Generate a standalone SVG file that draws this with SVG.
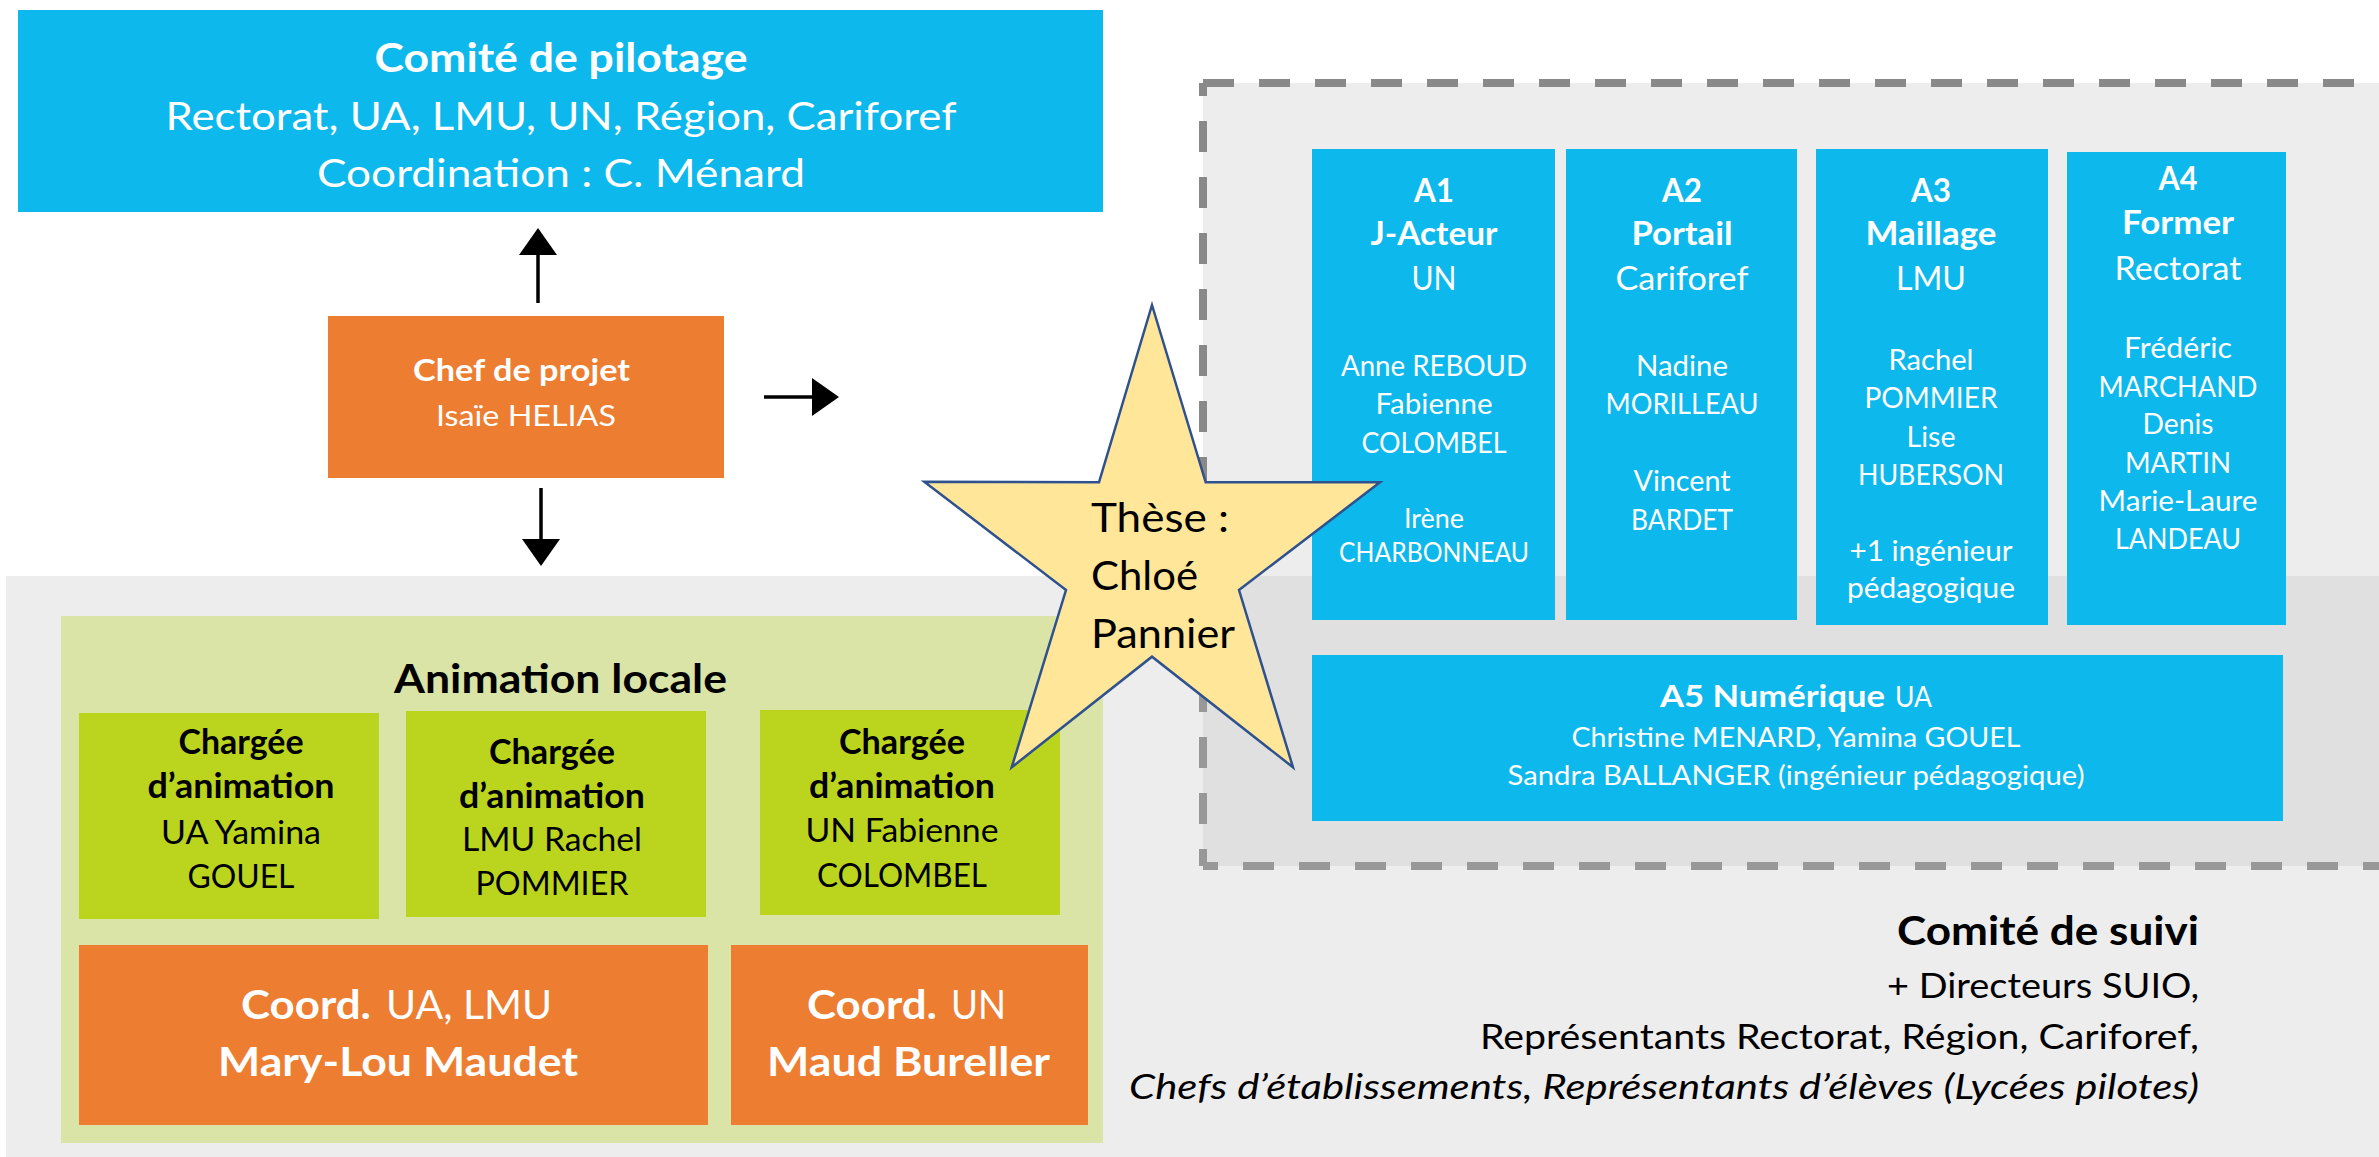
<svg xmlns="http://www.w3.org/2000/svg" width="2379" height="1157" viewBox="0 0 2379 1157">
<defs>
<style>
text{font-family:Lato,"Liberation Sans",sans-serif;text-anchor:middle}
.w{fill:#fff}
.k{fill:#000}
.b{font-weight:bold}
.s{text-anchor:start}
.e{text-anchor:end}
.blue{fill:#0DB8EC}
.orange{fill:#ED7D31}
.lime{fill:#BBD51E}
.dash{stroke:#898989;stroke-width:8;stroke-dasharray:31 25;fill:none}
.arrow{stroke:#000;stroke-width:3.5;fill:none}
</style>
<marker id="ah" markerUnits="userSpaceOnUse" markerWidth="27" markerHeight="38" refX="1" refY="19" orient="auto">
<path d="M0,0 L27,19 L0,38 z" fill="#000"/>
</marker>
</defs>
<rect x="0" y="0" width="2379" height="1157" fill="#fff"/>

<g id="suivi-frame">
<rect x="1203" y="83" width="1300" height="783" fill="#EDEDED"/>
<path class="dash" d="M1203,83 H2400"/>
<path class="dash" d="M1203,83 V866" stroke-dashoffset="18"/>
<path class="dash" d="M1203,866 H2400" stroke-dashoffset="16"/>
</g>

<g id="comite-suivi-bg">
<rect x="6" y="576" width="2373" height="581" fill="#BEBEBE" fill-opacity="0.28"/>
</g>

<g id="comite-pilotage">
<rect class="blue" x="18" y="10" width="1085" height="202"/>
<text class="w b" x="561" y="72" font-size="41" textLength="373" lengthAdjust="spacingAndGlyphs">Comité de pilotage</text>
<text class="w" x="561" y="130" font-size="39" textLength="791" lengthAdjust="spacingAndGlyphs">Rectorat, UA, LMU, UN, Région, Cariforef</text>
<text class="w" x="561" y="187" font-size="39" textLength="488" lengthAdjust="spacingAndGlyphs">Coordination : C. Ménard</text>
</g>

<g id="chef-projet">
<rect class="orange" x="328" y="316" width="396" height="162"/>
<text class="w b" x="521.5" y="381" font-size="31" textLength="217" lengthAdjust="spacingAndGlyphs">Chef de projet</text>
<text class="w" x="526" y="425.5" font-size="28" textLength="180" lengthAdjust="spacingAndGlyphs">Isaïe HELIAS</text>
</g>

<g id="connectors">
<line class="arrow" x1="538" y1="303" x2="538" y2="254" marker-end="url(#ah)"/>
<line class="arrow" x1="541" y1="488" x2="541" y2="540" marker-end="url(#ah)"/>
<line class="arrow" x1="764" y1="397" x2="813" y2="397" marker-end="url(#ah)"/>
</g>

<g id="a1">
<rect class="blue" x="1312" y="149" width="243" height="471"/>
<text class="w b" x="1434" y="202" font-size="33" textLength="40" lengthAdjust="spacingAndGlyphs">A1</text>
<text class="w b" x="1434" y="245" font-size="33" textLength="127" lengthAdjust="spacingAndGlyphs">J-Acteur</text>
<text class="w" x="1434" y="290" font-size="32" textLength="45" lengthAdjust="spacingAndGlyphs">UN</text>
<text class="w" x="1434" y="376" font-size="28" textLength="186" lengthAdjust="spacingAndGlyphs">Anne REBOUD</text>
<text class="w" x="1434" y="414" font-size="28" textLength="117" lengthAdjust="spacingAndGlyphs">Fabienne</text>
<text class="w" x="1434" y="453" font-size="28" textLength="145" lengthAdjust="spacingAndGlyphs">COLOMBEL</text>
<text class="w" x="1434" y="528" font-size="27" textLength="60" lengthAdjust="spacingAndGlyphs">Irène</text>
<text class="w" x="1434" y="562" font-size="27" textLength="190" lengthAdjust="spacingAndGlyphs">CHARBONNEAU</text>
</g>

<g id="a2">
<rect class="blue" x="1566" y="149" width="231" height="471"/>
<text class="w b" x="1682" y="202" font-size="33" textLength="40" lengthAdjust="spacingAndGlyphs">A2</text>
<text class="w b" x="1682" y="245" font-size="33" textLength="101" lengthAdjust="spacingAndGlyphs">Portail</text>
<text class="w" x="1682" y="290" font-size="32" textLength="133" lengthAdjust="spacingAndGlyphs">Cariforef</text>
<text class="w" x="1682" y="376" font-size="28" textLength="92" lengthAdjust="spacingAndGlyphs">Nadine</text>
<text class="w" x="1682" y="414" font-size="28" textLength="153" lengthAdjust="spacingAndGlyphs">MORILLEAU</text>
<text class="w" x="1682" y="491" font-size="28" textLength="97" lengthAdjust="spacingAndGlyphs">Vincent</text>
<text class="w" x="1682" y="530" font-size="28" textLength="102" lengthAdjust="spacingAndGlyphs">BARDET</text>
</g>

<g id="a3">
<rect class="blue" x="1816" y="149" width="232" height="476"/>
<text class="w b" x="1931" y="202" font-size="33" textLength="40" lengthAdjust="spacingAndGlyphs">A3</text>
<text class="w b" x="1931" y="245" font-size="33" textLength="131" lengthAdjust="spacingAndGlyphs">Maillage</text>
<text class="w" x="1931" y="290" font-size="32" textLength="70" lengthAdjust="spacingAndGlyphs">LMU</text>
<text class="w" x="1931" y="370" font-size="28" textLength="85" lengthAdjust="spacingAndGlyphs">Rachel</text>
<text class="w" x="1931" y="408" font-size="28" textLength="133" lengthAdjust="spacingAndGlyphs">POMMIER</text>
<text class="w" x="1931" y="447" font-size="28" textLength="49" lengthAdjust="spacingAndGlyphs">Lise</text>
<text class="w" x="1931" y="485" font-size="28" textLength="146" lengthAdjust="spacingAndGlyphs">HUBERSON</text>
<text class="w" x="1931" y="561" font-size="28" textLength="163" lengthAdjust="spacingAndGlyphs">+1 ingénieur</text>
<text class="w" x="1931" y="598" font-size="28" textLength="168" lengthAdjust="spacingAndGlyphs">pédagogique</text>
</g>

<g id="a4">
<rect class="blue" x="2067" y="152" width="219" height="473"/>
<text class="w b" x="2178" y="189.5" font-size="33" textLength="39" lengthAdjust="spacingAndGlyphs">A4</text>
<text class="w b" x="2178" y="234" font-size="33" textLength="112" lengthAdjust="spacingAndGlyphs">Former</text>
<text class="w" x="2178" y="280" font-size="32" textLength="127" lengthAdjust="spacingAndGlyphs">Rectorat</text>
<text class="w" x="2178" y="358" font-size="28" textLength="108" lengthAdjust="spacingAndGlyphs">Frédéric</text>
<text class="w" x="2178" y="397" font-size="28" textLength="159" lengthAdjust="spacingAndGlyphs">MARCHAND</text>
<text class="w" x="2178" y="434" font-size="28" textLength="71" lengthAdjust="spacingAndGlyphs">Denis</text>
<text class="w" x="2178" y="472.5" font-size="28" textLength="106" lengthAdjust="spacingAndGlyphs">MARTIN</text>
<text class="w" x="2178" y="511" font-size="28" textLength="159" lengthAdjust="spacingAndGlyphs">Marie-Laure</text>
<text class="w" x="2178" y="549" font-size="28" textLength="126" lengthAdjust="spacingAndGlyphs">LANDEAU</text>
</g>

<g id="a5">
<rect class="blue" x="1312" y="655" width="971" height="166"/>
<text class="w b s" x="1660" y="707" font-size="31" textLength="225" lengthAdjust="spacingAndGlyphs">A5 Numérique</text>
<text class="w s" x="1895" y="707" font-size="29" textLength="37" lengthAdjust="spacingAndGlyphs">UA</text>
<text class="w" x="1796" y="747" font-size="27" textLength="449" lengthAdjust="spacingAndGlyphs">Christine MENARD, Yamina GOUEL</text>
<text class="w" x="1796" y="785" font-size="27" textLength="577" lengthAdjust="spacingAndGlyphs">Sandra BALLANGER (ingénieur pédagogique)</text>
</g>

<g id="animation-locale">
<rect x="61" y="616" width="1042" height="527" fill="#D9E4A6"/>
<text class="k b" x="560.5" y="693" font-size="40" textLength="333" lengthAdjust="spacingAndGlyphs">Animation locale</text>
</g>

<g id="chargee-ua">
<rect class="lime" x="79" y="713" width="300" height="206"/>
<text class="k b" x="241" y="754" font-size="34" textLength="125" lengthAdjust="spacingAndGlyphs">Chargée</text>
<text class="k b" x="241" y="798" font-size="34" textLength="187" lengthAdjust="spacingAndGlyphs">d’animation</text>
<text class="k" x="241" y="844" font-size="32" textLength="160" lengthAdjust="spacingAndGlyphs">UA Yamina</text>
<text class="k" x="241" y="888" font-size="32" textLength="107" lengthAdjust="spacingAndGlyphs">GOUEL</text>
</g>

<g id="chargee-lmu">
<rect class="lime" x="406" y="711" width="300" height="206"/>
<text class="k b" x="552" y="764" font-size="34" textLength="126" lengthAdjust="spacingAndGlyphs">Chargée</text>
<text class="k b" x="552" y="808" font-size="34" textLength="186" lengthAdjust="spacingAndGlyphs">d’animation</text>
<text class="k" x="552" y="851" font-size="32" textLength="180" lengthAdjust="spacingAndGlyphs">LMU Rachel</text>
<text class="k" x="552" y="895" font-size="32" textLength="153" lengthAdjust="spacingAndGlyphs">POMMIER</text>
</g>

<g id="chargee-un">
<rect class="lime" x="760" y="710" width="300" height="205"/>
<text class="k b" x="902" y="754" font-size="34" textLength="126" lengthAdjust="spacingAndGlyphs">Chargée</text>
<text class="k b" x="902" y="798" font-size="34" textLength="186" lengthAdjust="spacingAndGlyphs">d’animation</text>
<text class="k" x="902" y="842" font-size="32" textLength="193" lengthAdjust="spacingAndGlyphs">UN Fabienne</text>
<text class="k" x="902" y="887" font-size="32" textLength="170" lengthAdjust="spacingAndGlyphs">COLOMBEL</text>
</g>

<g id="coord-ua-lmu">
<rect class="orange" x="79" y="945" width="629" height="180"/>
<text class="w b s" x="241" y="1019" font-size="40" textLength="130" lengthAdjust="spacingAndGlyphs">Coord.</text>
<text class="w s" x="386" y="1019" font-size="40" textLength="166" lengthAdjust="spacingAndGlyphs">UA, LMU</text>
<text class="w b" x="398" y="1076" font-size="40" textLength="360" lengthAdjust="spacingAndGlyphs">Mary-Lou Maudet</text>
</g>

<g id="coord-un">
<rect class="orange" x="731" y="945" width="357" height="180"/>
<text class="w b s" x="807" y="1019" font-size="40" textLength="130" lengthAdjust="spacingAndGlyphs">Coord.</text>
<text class="w s" x="951" y="1019" font-size="40" textLength="55" lengthAdjust="spacingAndGlyphs">UN</text>
<text class="w b" x="908.5" y="1076" font-size="40" textLength="283" lengthAdjust="spacingAndGlyphs">Maud Bureller</text>
</g>

<g id="comite-suivi">
<text class="k b e" x="2199" y="945" font-size="40" textLength="302" lengthAdjust="spacingAndGlyphs">Comité de suivi</text>
<text class="k e" x="2199" y="998" font-size="35" textLength="312" lengthAdjust="spacingAndGlyphs">+ Directeurs SUIO,</text>
<text class="k e" x="2199" y="1049" font-size="35" textLength="719" lengthAdjust="spacingAndGlyphs">Représentants Rectorat, Région, Cariforef,</text>
<text class="k e" x="2199" y="1099" font-size="35" font-style="italic" textLength="1070" lengthAdjust="spacingAndGlyphs">Chefs d’établissements, Représentants d’élèves (Lycées pilotes)</text>
</g>

<g id="these">
<polygon points="1152,305 1205.7,482.3 1380,482.3 1239,590 1293,767.3 1152,656.7 1011.7,767.3 1066,590 924.3,481.7 1099,482.3" fill="#FFE699" stroke="#2F528F" stroke-width="2.5" stroke-linejoin="miter"/>
<text class="k s" x="1091" y="532" font-size="40" textLength="138" lengthAdjust="spacingAndGlyphs">Thèse :</text>
<text class="k s" x="1091" y="590" font-size="40" textLength="107" lengthAdjust="spacingAndGlyphs">Chloé</text>
<text class="k s" x="1091" y="648" font-size="40" textLength="144" lengthAdjust="spacingAndGlyphs">Pannier</text>
</g>
</svg>
